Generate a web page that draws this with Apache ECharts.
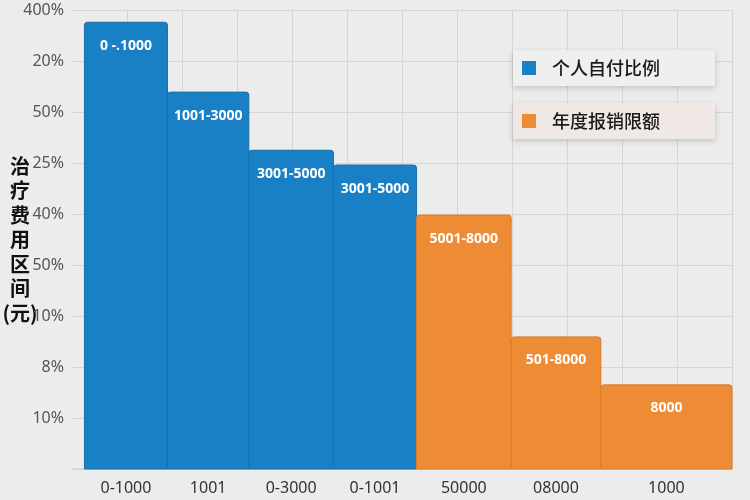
<!DOCTYPE html>
<html lang="zh">
<head>
    <meta charset="UTF-8">
    <title>治疗费用区间</title>
    <script src="https://cdn.jsdelivr.net/npm/echarts@6.0.0/dist/echarts.min.js"></script>
    <style>
        html, body { margin: 0; padding: 0; background: #ececec; }
    </style>
</head>
<body>

<div id="main" style="width: 750px;height:500px;"></div>

<script type="text/javascript">
    // 区间数据（柱宽为相对宽度）
    var binLabels = ['0 -.1000', '1001-3000', '3001-5000', '3001-5000', '5001-8000', '501-8000', '8000'];
    var tickLabels = ['0-1000', '1001', '0-3000', '0-1001', '50000', '08000', '1000'];
    var binWidths = [1, 0.98, 1.02, 1, 1.14, 1.08, 1.58];
    var selfPayValues = [8.76, 7.39, 6.25, 5.96];
    var reimburseValues = [4.98, 2.59, 1.65];
    var yTickLabels = ['', '10%', '8%', '10%', '50%', '40%', '25%', '50%', '20%', '400%'];

    var edges = [0];
    for (var i = 0; i < binWidths.length; i++) {
        edges.push(edges[i] + binWidths[i]);
    }
    var centers = [];
    for (var i = 0; i < binWidths.length; i++) {
        centers.push((edges[i] + edges[i + 1]) / 2);
    }

    var blueData = [], orangeData = [];
    selfPayValues.forEach(function (v, k) {
        blueData.push([edges[k], edges[k + 1], v, k]);
    });
    reimburseValues.forEach(function (v, k) {
        var idx = k + selfPayValues.length;
        orangeData.push([edges[idx], edges[idx + 1], v, idx]);
    });

    function makeRender(stroke) {
        return function (params, api) {
            var p0 = api.coord([api.value(0), 0]);
            var p1 = api.coord([api.value(1), api.value(2)]);
            return {
                type: 'rect',
                shape: {x: p0[0], y: p1[1], width: p1[0] - p0[0], height: p0[1] - p1[1], r: [3, 3, 0, 0]},
                style: {fill: api.visual('color'), stroke: stroke, lineWidth: 1},
                textContent: {
                    style: {
                        text: binLabels[api.value(3)],
                        fill: '#ffffff',
                        font: 'bold 14px "Open Sans", "Noto Sans", sans-serif'
                    }
                },
                textConfig: {position: 'insideTop', distance: 17}
            };
        };
    }

    var myChart = echarts.init(document.getElementById('main'));

    var legendBase = {
        orient: 'vertical',
        left: 513,
        icon: 'rect',
        itemWidth: 14,
        itemHeight: 14,
        padding: [9, 55, 9, 9],
        selectedMode: false,
        shadowColor: 'rgba(0, 0, 0, 0.18)',
        shadowBlur: 6,
        shadowOffsetY: 2,
        textStyle: {
            fontSize: 18,
            lineHeight: 18,
            fontWeight: 500,
            color: '#1a1a1a',
            fontFamily: '"Noto Sans CJK SC", sans-serif',
            padding: [0, 0, 0, 11]
        }
    };

    var option = {
        backgroundColor: '#ececec',
        legend: [
            Object.assign({}, legendBase, {top: 50, data: ['个人自付比例'], backgroundColor: '#efefef'}),
            Object.assign({}, legendBase, {top: 103, data: ['年度报销限额'], backgroundColor: '#efe8e4'})
        ],
        grid: {left: 72, right: 18, top: 10, bottom: 31, outerBoundsMode: 'none', containLabel: false},
        xAxis: [{
            type: 'value',
            min: -0.15,
            max: edges[edges.length - 1],
            splitLine: {show: false},
            axisTick: {show: false},
            axisLine: {lineStyle: {color: '#d2d2d2', width: 1.5}},
            axisLabel: {
                customValues: centers,
                margin: 11,
                fontSize: 16,
                color: '#333',
                fontFamily: '"Noto Sans", sans-serif',
                formatter: function (v) {
                    var best = 0;
                    for (var k = 0; k < centers.length; k++) {
                        if (Math.abs(centers[k] - v) < Math.abs(centers[best] - v)) best = k;
                    }
                    return tickLabels[best];
                }
            }
        }, {
            type: 'value',
            min: 0,
            max: 12,
            interval: 1,
            axisLine: {show: false},
            axisTick: {show: false},
            axisLabel: {show: false},
            splitLine: {show: true, showMinLine: false, lineStyle: {color: '#d6d6d6'}}
        }],
        yAxis: {
            type: 'value',
            min: 0,
            max: 9,
            interval: 1,
            name: '治\n疗\n费\n用\n区\n间\n(元)',
            nameLocation: 'middle',
            nameRotate: 0,
            nameGap: 52,
            nameMoveOverlap: false,
            nameTextStyle: {
                align: 'center',
                fontSize: 20,
                fontWeight: 'bold',
                lineHeight: 24.5,
                color: '#111',
                fontFamily: '"Noto Sans CJK SC", sans-serif'
            },
            axisLine: {show: false},
            axisTick: {show: false},
            splitLine: {lineStyle: {color: '#d6d6d6'}},
            axisLabel: {
                margin: 8,
                fontSize: 16,
                color: '#555',
                fontFamily: '"Noto Sans", sans-serif',
                formatter: function (v) {
                    return yTickLabels[Math.round(v)];
                }
            }
        },
        series: [{
            name: '个人自付比例',
            type: 'custom',
            renderItem: makeRender('#1570ad'),
            itemStyle: {color: '#1a80c5'},
            encode: {x: [0, 1], y: 2},
            data: blueData
        }, {
            name: '年度报销限额',
            type: 'custom',
            renderItem: makeRender('#d97a2a'),
            itemStyle: {color: '#ee8c35'},
            encode: {x: [0, 1], y: 2},
            data: orangeData
        }]
    };

    myChart.setOption(option);
</script>
</body>
</html>
